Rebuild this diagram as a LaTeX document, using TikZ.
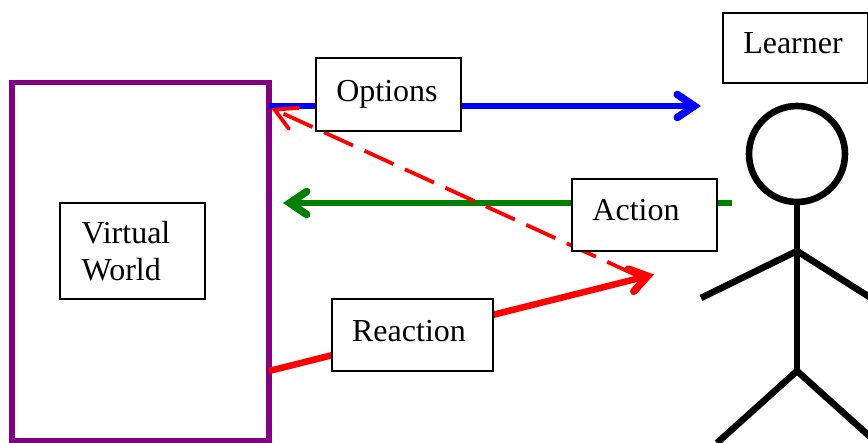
\documentclass[tikz,border=0pt]{standalone}
\usepackage{fontspec}
\setmainfont{Liberation Serif}
\usetikzlibrary{arrows.meta}
\definecolor{worldpurple}{HTML}{800080}
\definecolor{actiongreen}{HTML}{008000}
\newcommand{\boxtext}[3]{\hspace*{#1}\raisebox{#2}{#3}}
\tikzset{
  labelbox/.style={draw=black,line width=2pt,fill=white,inner sep=0pt,align=left,font=\fontsize{32}{38}\selectfont},
  limb/.style={draw=black,line width=6.6pt},
  conn/.style={line width=6.5pt,-{Straight Barb[length=17pt,width=23pt,line width=7.5pt,line cap=round,line join=miter]}},
  dashconn/.style={draw=red,line width=3.8pt,dash pattern=on 32pt off 12.5pt,-{Straight Barb[length=21pt,width=23pt,line width=3.8pt,line cap=round,line join=miter]}},
}
\begin{document}
\begin{tikzpicture}[x=1pt,y=-1pt]
\useasboundingbox (0,0) rectangle (868,443);
\clip (0,0) rectangle (868,443);
% anchor points
\coordinate (optfrom) at (269,106);
\coordinate (optto) at (701,106);
\coordinate (actfrom) at (732,203);
\coordinate (actto) at (283,203);
\coordinate (reafrom) at (269,371);
\coordinate (reato) at (654,274.5);
\coordinate (dashfrom) at (636.3,275.2);
\coordinate (dashto) at (271,108);
% world frame
\node[draw=worldpurple,line width=5.5pt,minimum width=257pt,minimum height=358pt,inner sep=0pt] (world) at (140.5,261.5) {};
% connectors
\draw[conn,draw=blue] (optfrom) -- (optto);
\draw[conn,draw=actiongreen] (actfrom) -- (actto);
\draw[conn,draw=red] (reafrom) -- (reato);
\draw[dashconn] (dashfrom) -- (dashto);
% boxes
\node[labelbox,minimum width=145pt,minimum height=73pt] (options) at (388.5,94.5) {\boxtext{-3pt}{5pt}{Options}};
\node[labelbox,minimum width=145pt,minimum height=70pt] (learner) at (795.5,48) {\boxtext{-5pt}{10pt}{Learner}};
\node[labelbox,minimum width=145pt,minimum height=72pt] (action) at (644.5,215) {\boxtext{-17pt}{10pt}{Action}};
\node[labelbox,minimum width=161pt,minimum height=72pt] (reaction) at (412.5,335) {\boxtext{-7pt}{9pt}{Reaction}};
\node[labelbox,minimum width=145pt,minimum height=96pt] (virtual) at (132.5,251) {\hspace*{-13pt}\raisebox{-3pt}{Virtual}\\\hspace*{-13pt}\raisebox{-2pt}{World}};
% stick figure
\node[draw=black,line width=6.6pt,circle,minimum size=96pt,inner sep=0pt] (head) at (797,154) {};
\coordinate (neck) at (797,251);
\coordinate (hip) at (797,371);
\coordinate (lefthand) at (701,298);
\coordinate (righthand) at (893,312);
\coordinate (leftfoot) at (717,443);
\coordinate (rightfoot) at (877,443);
\draw[limb] (head.south) -- (hip);
\draw[limb] (lefthand) -- (neck) -- (righthand);
\draw[limb] (leftfoot) -- (hip) -- (rightfoot);
\end{tikzpicture}
\end{document}
